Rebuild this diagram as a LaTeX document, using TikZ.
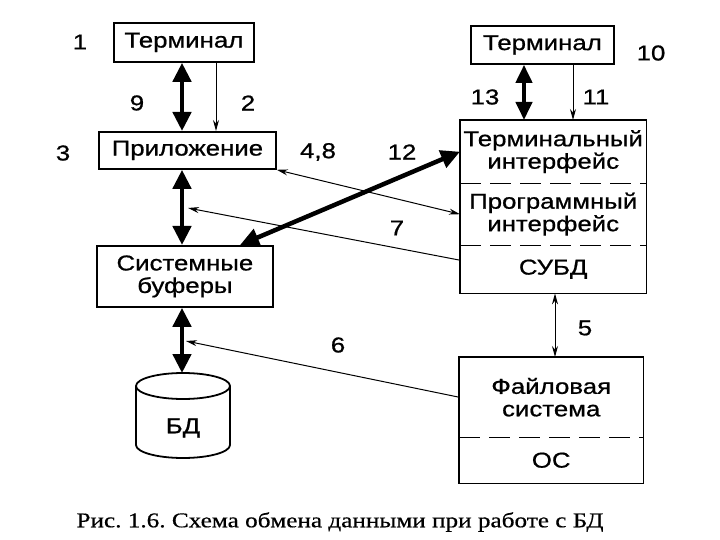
\documentclass[tikz,border=0pt]{standalone}
\usepackage{fontspec}
\newfontfamily\lsw{Liberation Sans}[FakeStretch=1.2,FakeBold=0.8]
\newfontfamily\lserw{Liberation Serif}[FakeStretch=1.2,FakeBold=0.5]
\usetikzlibrary{arrows.meta}
\frenchspacing
\begin{document}
\begin{tikzpicture}[x=1pt,y=-1pt,
  every node/.style={font=\lsw\fontsize{21.5}{22.5}\selectfont, inner sep=0pt},
  box/.style={draw, line width=1.8pt, anchor=north west, align=center},
  part/.style={anchor=north west, align=center},
  sepline/.style={line width=1.5pt, dash pattern=on 21pt off 9pt},
  frame/.style={line width=1.8pt},
  thickarr/.style={line width=4.5pt, {Triangle[length=19pt,width=18pt]}-{Triangle[length=19pt,width=18pt]}},
  midarr/.style={line width=4pt, {Triangle[length=18pt,width=16pt]}-{Triangle[length=18pt,width=16pt]}},
  thinarr/.style={line width=1pt, -{Stealth[length=11pt,width=6pt]}},
  thinarrs/.style={line width=1pt, {Stealth[length=11pt,width=6pt]}-{Stealth[length=11pt,width=6pt]}}
]
\fill[white] (0,0) rectangle (720,540);
\useasboundingbox (0,0) rectangle (720,540);

% left column
\node[box, minimum width=140pt, minimum height=39pt] (term1) at (113,22) {Терминал};
\node[box, minimum width=177pt, minimum height=37pt] (app) at (98,131) {Приложение};
\node[box, minimum width=176pt, minimum height=61pt] (buf) at (96,245) {Системные\\буферы};

% database cylinder
\draw[frame] (136,386) -- (136,445) arc[start angle=180, end angle=0, x radius=47, y radius=13] -- (230,386);
\draw[frame] (183,386) ellipse [x radius=47, y radius=13];
\node (bd) at (183,428) {БД};
\coordinate (bdtop) at (182,373);

% right column
\node[box, minimum width=143pt, minimum height=38pt] (term2) at (470,25) {Терминал};
\node[part, minimum width=186pt, minimum height=63pt] (ti) at (460,120) {Терминальный\\интерфейс};
\node[part, minimum width=186pt, minimum height=62pt] (pi) at (460,183) {Программный\\интерфейс};
\node[part, minimum width=186pt, minimum height=48pt] (subd) at (460,245) {СУБД};
\draw[frame] (ti.north west) rectangle (subd.south east);
\draw[sepline] (ti.south west) -- (ti.south east);
\draw[sepline] (pi.south west) -- (pi.south east);

\node[part, minimum width=184pt, minimum height=80pt] (fs) at (459,357) {Файловая\\система};
\node[part, minimum width=184pt, minimum height=46pt] (os) at (459,437) {ОС};
\draw[frame] (fs.north west) rectangle (os.south east);
\draw[sepline] (fs.south west) -- (fs.south east);

% connector columns
\coordinate (axl) at (182,0);
\coordinate (x2) at (216,0);
\coordinate (x12) at (240,0);
\coordinate (x13) at (524,0);
\coordinate (x11) at (573,0);
\coordinate (x5) at (555,0);
\coordinate (t7) at (188,208);
\coordinate (t6) at (186,341);

% connectors
\draw[thickarr] (term1.south -| axl) -- (app.north -| axl);
\draw[thinarr] (term1.south -| x2) -- (app.north -| x2);
\draw[thickarr] (app.south -| axl) -- (buf.north -| axl);
\draw[thickarr] (buf.south -| bdtop) -- (bdtop);
\draw[midarr] (term2.south -| x13) -- (ti.north -| x13);
\draw[thinarr] (term2.south -| x11) -- (ti.north -| x11);
\draw[thinarrs] (app.south east) -- (pi.west);
\draw[thickarr] (buf.north -| x12) -- (ti.west);
\draw[thinarr] ([yshift=9pt]subd.west) -- (t7);
\draw[thinarrs] (subd.south -| x5) -- (fs.north -| x5);
\draw[thinarr] (fs.west) -- (t6);

% numbers
\node (n1) at (80,42) {1};
\node (n9) at (137,103) {9};
\node (n2) at (248,103) {2};
\node (n3) at (63,153) {3};
\node (n48) at (318,152) {4,8};
\node (n12) at (402,152) {12};
\node (n7) at (397,228) {7};
\node (n13) at (485,97) {13};
\node (n11) at (596,97) {11};
\node (n10) at (651,53) {10};
\node (n5) at (585,328) {5};
\node (n6) at (338,345) {6};

% caption
\node[font=\lserw\fontsize{21}{23}\selectfont] (cap) at (340,522) {Рис. 1.6. Схема обмена данными при работе с БД};
\end{tikzpicture}
\end{document}
